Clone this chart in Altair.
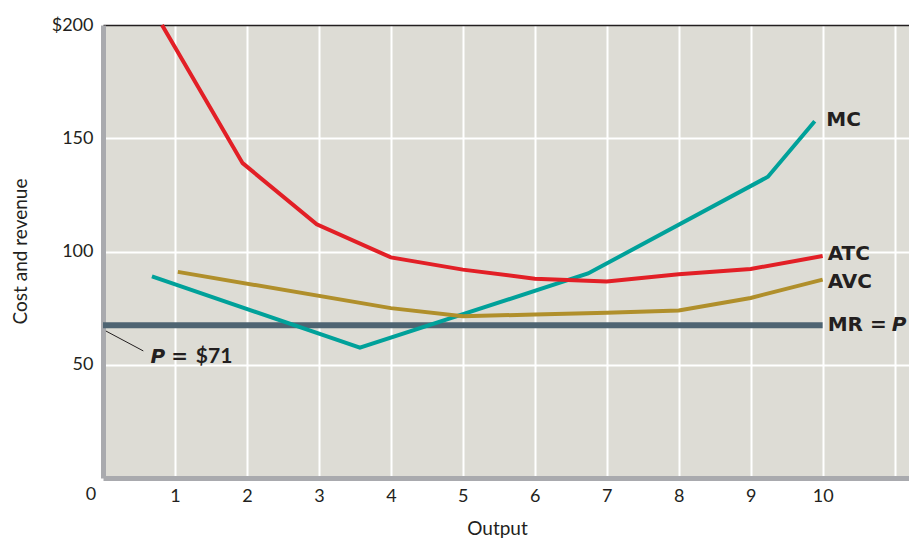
import altair as alt
import pandas as pd

# ---- data ----
mc_x = [0.68, 3.57, 6.74, 9.24, 9.89]
mc_y = [89.0, 57.5, 90.3, 133.0, 157.5]
atc_x = [0.82, 1.94, 2.97, 4, 5, 6, 7, 8, 9, 10]
atc_y = [200.0, 139.0, 112.0, 97.4, 92.0, 88.0, 86.8, 90.0, 92.3, 98.0]
avc_x = [1.04, 4, 5, 6, 7, 8, 9, 10]
avc_y = [91.0, 75.0, 71.4, 72.2, 73.0, 74.0, 79.5, 87.6]
mr_x = [0, 10]
mr_y = [67.4, 67.4]
leader_x = [0.04, 0.56]
leader_y = [64.9, 56.1]

x_ticks = list(range(0, 12))
y_ticks = [50, 100, 150, 200]

series_names = ["MC", "ATC", "AVC"]
series_colors = ["#00a19a", "#e21f26", "#b08f2b"]

rows = []
for name, xs, ys in [("MC", mc_x, mc_y), ("ATC", atc_x, atc_y), ("AVC", avc_x, avc_y)]:
    for i, (a, b) in enumerate(zip(xs, ys)):
        rows.append({"series": name, "x": a, "y": b, "o": i})
curves = pd.DataFrame(rows)
mr = pd.DataFrame({"x": mr_x, "y": mr_y})
leader = pd.DataFrame({"x": leader_x, "y": leader_y})

# annotation labels
lab_bold = pd.DataFrame({
    "x": [10.05, 10.07, 10.07, 10.07, 0.95],
    "y": [158.0, 98.9, 86.5, 67.4, 53.4],
    "text": ["MC", "ATC", "AVC", "MR =", "="],
})
lab_money = pd.DataFrame({"x": [1.29], "y": [53.4], "text": ["$71"]})
lab_ital = pd.DataFrame({"x": [10.96, 0.66], "y": [67.4, 53.4], "text": ["P", "P"]})
zero_lab = pd.DataFrame({"x": [-0.167], "y": [-7.7], "text": ["0"]})

FONT = "Lato"
LFONT = "DejaVu Sans"
INK = "#231f20"

xs = alt.Scale(domain=[0, 11.2], nice=False, zero=False)
ys = alt.Scale(domain=[0, 200], nice=False)

xaxis = alt.Axis(
    values=x_ticks, title="Output", format="d",
    labelExpr="(datum.value == 0 || datum.value == 11) ? '' : datum.label",
    grid=True, gridColor={"condition": {"test": "datum.value == 0", "value": "transparent"}, "value": "#ffffff"},
    gridWidth=2, ticks=False, domainColor="#a9aaae", domainWidth=5,
    labelFont=FONT, labelFontSize=18, labelColor=INK, labelPadding=9,
    titleFont=FONT, titleFontSize=19, titleFontWeight="normal", titleColor=INK,
    titleX=394, titleY=50, titleBaseline="middle",
)
yaxis = alt.Axis(
    values=y_ticks, title="Cost and revenue",
    labelExpr="datum.value == 200 ? '$200' : datum.label",
    grid=True, gridColor={"condition": {"test": "datum.value == 200", "value": INK}, "value": "#ffffff"},
    gridWidth={"condition": {"test": "datum.value == 200", "value": 1.5}, "value": 2},
    ticks=False, domainColor="#a9aaae", domainWidth=5,
    labelFont=FONT, labelFontSize=18, labelColor=INK, labelPadding=10,
    titleFont=FONT, titleFontSize=19, titleFontWeight="normal", titleColor=INK,
    titleX=-83, titleY=226, titleAngle=-90, titleBaseline="middle",
)

X = alt.X("x:Q", scale=xs, axis=xaxis)
Y = alt.Y("y:Q", scale=ys, axis=yaxis)

mr_layer = alt.Chart(mr).mark_line(color="#4e6472", strokeWidth=6).encode(x=X, y=Y)
curve_layer = alt.Chart(curves).mark_line(strokeWidth=4).encode(
    x=X, y=Y, order="o:Q",
    color=alt.Color("series:N", scale=alt.Scale(domain=series_names, range=series_colors), legend=None),
)
leader_layer = alt.Chart(leader).mark_line(color=INK, strokeWidth=1).encode(x=X, y=Y)
bold_layer = alt.Chart(lab_bold).mark_text(
    font=LFONT, fontSize=20, fontWeight="bold", color=INK, align="left", baseline="middle"
).encode(x=X, y=Y, text="text:N")
money_layer = alt.Chart(lab_money).mark_text(
    font=FONT, fontSize=21, fontWeight="bold", color=INK, align="left", baseline="middle"
).encode(x=X, y=Y, text="text:N")
ital_layer = alt.Chart(lab_ital).mark_text(
    font=LFONT, fontSize=20, fontWeight="bold", fontStyle="italic", color=INK, align="left", baseline="middle"
).encode(x=X, y=Y, text="text:N")
zero_layer = alt.Chart(zero_lab).mark_text(
    font=FONT, fontSize=18, color=INK, align="center", baseline="middle"
).encode(x=X, y=Y, text="text:N")

chart = alt.layer(
    mr_layer, curve_layer, leader_layer, bold_layer, money_layer, ital_layer, zero_layer
).properties(
    width=806, height=453,
    autosize=alt.AutoSizeParams(type="none"),
    padding={"left": 95, "top": 17, "right": 0, "bottom": 66},
    background="#ffffff",
).configure_view(stroke=None, fill="#dddcd5")

chart.save("out.html", embed_options={"renderer": "svg", "actions": False})
